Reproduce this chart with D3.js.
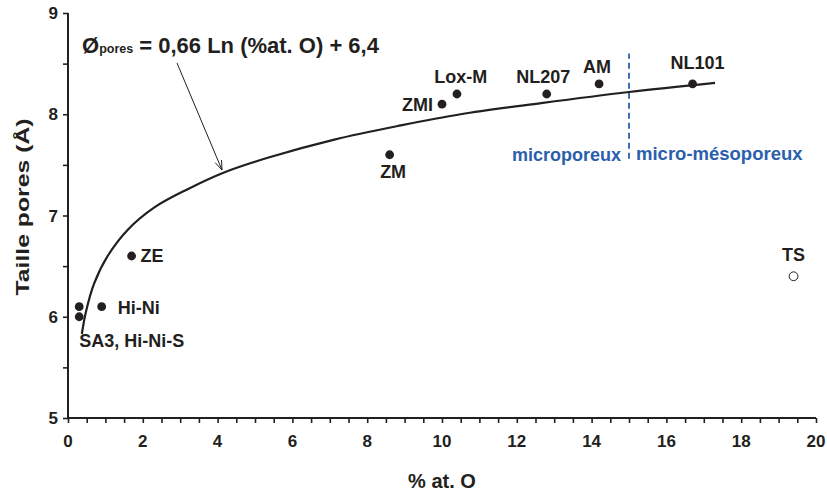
<!DOCTYPE html>
<html>
<head>
<meta charset="utf-8">
<script src="https://cdn.jsdelivr.net/npm/d3@7/dist/d3.min.js"></script>
<style>
  body { margin: 0; background: #fff; }
  text { font-family: "Liberation Sans", Arial, sans-serif; font-weight: bold; fill: #231f20; }
</style>
</head>
<body>
<svg id="chart" width="827" height="492"></svg>
<script>
// ---- data ----
const sampleNames = ["SA3", "Hi-Ni-S", "Hi-Ni", "ZE", "ZM", "ZMI", "Lox-M", "NL207", "AM", "NL101", "TS"];
const oxygenPct   = [0.3, 0.3, 0.9, 1.7, 8.6, 10.0, 10.4, 12.8, 14.2, 16.7, 19.4];
const poreSize    = [6.1, 6.0, 6.1, 6.6, 7.6, 8.1, 8.2, 8.2, 8.3, 8.3, 6.4];
const openMarker  = [false, false, false, false, false, false, false, false, false, false, true];

// fitted trend curve
const fitX = [0.37, 0.48, 0.70, 1.06, 1.60, 2.31, 3.20, 4.14, 5.34, 7.12, 8.90, 10.5, 12.65, 15.0, 17.3];
const fitY = [5.83, 6.05, 6.33, 6.60, 6.86, 7.08, 7.26, 7.42, 7.57, 7.75, 7.89, 8.00, 8.11, 8.22, 8.31];

const xTickValues = [0, 2, 4, 6, 8, 10, 12, 14, 16, 18, 20];
const yTickValues = [5, 6, 7, 8, 9];
const boundaryX = 15;
const boundaryY = [7.56, 8.60];
const equationParts = ["Ø", "pores", " = 0,66 Ln (%at. O) + 6,4"];
const regionLabels = ["microporeux", "micro-mésoporeux"];
const xTitle = "% at. O";
const yTitle = "Taille pores (Å)";

// point labels: text and the sample each one sits next to
const labelText = ["SA3, Hi-Ni-S", "Hi-Ni", "ZE", "ZM", "ZMI", "Lox-M", "NL207", "AM", "NL101", "TS"];
const labelAnchorIdx = [1, 2, 3, 4, 5, 6, 7, 8, 9, 10];

// ---- layout ----
const labelLayout = [
  [0, 30, "start"], [16, 7, "start"], [9, 6, "start"], [3.5, 23, "middle"],
  [-9, 6.5, "end"], [3.7, -11, "middle"], [-3.4, -11, "middle"], [-2, -10.7, "middle"],
  [5, -15, "middle"], [0, -15.4, "middle"]
];

const svg = d3.select("#chart");
const x = d3.scaleLinear().domain([0, 20]).range([68, 816]);
const y = d3.scaleLinear().domain([5, 9]).range([418, 13]);
const ink = "#231f20";
const blue = "#2b5fad";

// minor ticks
const xMinor = d3.range(0, 20.01, 0.5);
const yMinor = d3.range(5, 9.01, 0.5);

const xAxis = svg.append("g").attr("transform", `translate(0,${y(5)})`)
  .call(d3.axisBottom(x).tickValues(xMinor).tickSize(5).tickFormat(""));
const yAxis = svg.append("g").attr("transform", `translate(${x(0)},0)`)
  .call(d3.axisLeft(y).tickValues(yMinor).tickSize(5).tickFormat(""));
[xAxis, yAxis].forEach(g => {
  g.selectAll("path").attr("stroke", ink).attr("stroke-width", 2);
  g.selectAll("line").attr("stroke", ink).attr("stroke-width", 1.6);
});
xAxis.select(".domain").attr("d", `M${x(0)},0H${x(20)}`);
yAxis.select(".domain").attr("d", `M0,${y(5)}V${y(9)}`);

// tick labels
svg.append("g").selectAll("text").data(xTickValues).join("text")
  .attr("x", d => x(d)).attr("y", y(5) + 29)
  .attr("text-anchor", "middle").attr("font-size", 17)
  .text(d => d);
svg.append("g").selectAll("text").data(yTickValues).join("text")
  .attr("x", x(0) - 10).attr("y", d => y(d) + 6)
  .attr("text-anchor", "end").attr("font-size", 17)
  .text(d => d);

// axis titles
svg.append("text").attr("x", 442).attr("y", 488).attr("text-anchor", "middle")
  .attr("font-size", 20).text(xTitle);
svg.append("text").attr("transform", `translate(29,207) rotate(-90)`)
  .attr("text-anchor", "middle").attr("font-size", 18.5)
  .attr("textLength", 177).attr("lengthAdjust", "spacingAndGlyphs").text(yTitle);

// boundary line
svg.append("line")
  .attr("x1", x(boundaryX)).attr("x2", x(boundaryX))
  .attr("y1", y(boundaryY[0])).attr("y2", y(boundaryY[1]))
  .attr("stroke", blue).attr("stroke-width", 1.8).attr("stroke-dasharray", "6,4");
svg.append("text").attr("x", x(boundaryX) - 8).attr("y", 160.7)
  .attr("text-anchor", "end").attr("font-size", 18).style("fill", blue).text(regionLabels[0]);
svg.append("text").attr("x", x(boundaryX) + 7).attr("y", 160.3)
  .attr("text-anchor", "start").attr("font-size", 18.5).style("fill", blue).text(regionLabels[1]);

// fitted curve
const fitPts = fitX.map((v, i) => [v, fitY[i]]);
svg.append("path").datum(fitPts)
  .attr("d", d3.line().x(d => x(d[0])).y(d => y(d[1])).curve(d3.curveCatmullRom.alpha(0.5)))
  .attr("fill", "none").attr("stroke", ink).attr("stroke-width", 2.2);

// points
const pts = sampleNames.map((n, i) => ({ n, x: oxygenPct[i], y: poreSize[i], open: openMarker[i] }));
svg.append("g").selectAll("circle").data(pts).join("circle")
  .attr("cx", d => x(d.x)).attr("cy", d => y(d.y)).attr("r", 4.4)
  .attr("fill", d => d.open ? "#fff" : ink)
  .attr("stroke", ink).attr("stroke-width", d => d.open ? 1 : 0);

svg.append("g").selectAll("text").data(labelText).join("text")
  .attr("x", (d, i) => x(oxygenPct[labelAnchorIdx[i]]) + labelLayout[i][0])
  .attr("y", (d, i) => y(poreSize[labelAnchorIdx[i]]) + labelLayout[i][1])
  .attr("text-anchor", (d, i) => labelLayout[i][2])
  .attr("font-size", 18).text(d => d);

// equation
const eq = svg.append("text").attr("x", 82).attr("y", 53).attr("font-size", 22);
eq.append("tspan").text(equationParts[0]);
eq.append("tspan").attr("font-size", 12.5).text(equationParts[1]);
eq.append("tspan").attr("font-size", 22).text(equationParts[2]);

// arrow from equation to curve
const ax1 = 177, ay1 = 63, ax2 = 222, ay2 = 170;
svg.append("line").attr("x1", ax1).attr("y1", ay1).attr("x2", ax2).attr("y2", ay2)
  .attr("stroke", ink).attr("stroke-width", 1);
const ang = Math.atan2(ay2 - ay1, ax2 - ax1);
const hl = 10, hw = 0.35;
svg.append("path")
  .attr("d", `M${ax2 - hl * Math.cos(ang - hw)},${ay2 - hl * Math.sin(ang - hw)}L${ax2},${ay2}L${ax2 - hl * Math.cos(ang + hw)},${ay2 - hl * Math.sin(ang + hw)}`)
  .attr("fill", "none").attr("stroke", ink).attr("stroke-width", 1);
</script>
</body>
</html>
